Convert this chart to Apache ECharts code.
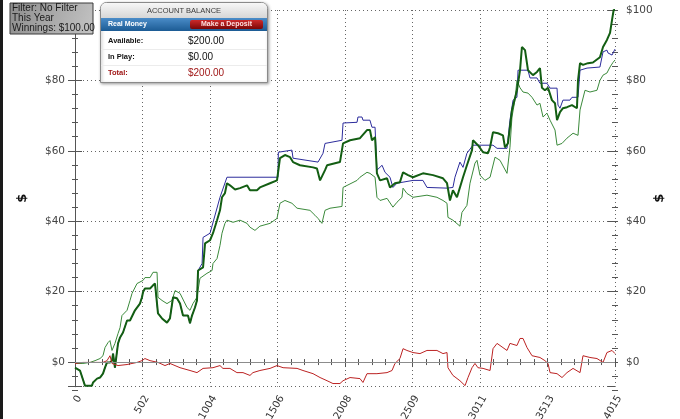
<!DOCTYPE html>
<html><head><meta charset="utf-8">
<script src="https://cdn.jsdelivr.net/npm/echarts@6/dist/echarts.min.js"></script>
<style>html,body{margin:0;padding:0;background:#fff}#c{width:680px;height:419px}</style>
</head><body><div id="c"></div>
<script>
const handMax = 4015;
const xTickLabels = ['0','502','1004','1506','2008','2509','3011','3513','4015'];
const yTickValues = [0,20,40,60,80,100];

// dark green (thick)
const netWon = [[0,-1.6],[37,-2.4],[74,-6.7],[126,-6.7],[134,-5.8],[164,-4.7],[186,-4.4],[208,-3.3],[223,-1.6],[238,-0.1],[260,-0.1],[275,0.4],[283,2.4],[297,-1.6],[320,5.3],[335,7.0],[357,8.4],[387,11.8],[409,11.8],[446,14.7],[483,16.6],[498,18.4],[506,19.9],[520,20.9],[558,20.9],[580,21.8],[595,22.3],[617,13.8],[647,12.4],[684,11.2],[706,12.4],[729,18.4],[758,18.1],[781,16.6],[803,13.2],[840,13.2],[855,11.0],[870,13.2],[892,15.5],[907,17.5],[915,26.0],[952,26.9],[967,33.7],[1004,34.6],[1026,36.6],[1056,40.3],[1078,43.1],[1093,46.8],[1115,48.0],[1130,50.8],[1152,50.2],[1190,49.0],[1227,49.4],[1279,50.2],[1301,48.8],[1353,48.8],[1375,49.6],[1450,50.8],[1502,51.6],[1524,57.9],[1561,58.8],[1599,58.2],[1621,56.8],[1673,55.9],[1770,55.3],[1799,55.0],[1822,51.6],[1859,54.5],[1874,55.9],[1970,56.8],[1993,62.1],[2045,63.0],[2119,63.6],[2171,65.9],[2193,65.9],[2208,63.0],[2231,63.9],[2245,53.6],[2268,51.6],[2320,52.2],[2342,49.6],[2379,50.8],[2416,51.1],[2439,53.9],[2476,53.1],[2513,52.5],[2587,53.6],[2662,53.1],[2736,52.2],[2766,50.8],[2788,45.9],[2810,48.8],[2840,46.8],[2862,49.6],[2885,52.5],[2914,55.9],[2952,60.2],[2959,63.0],[2996,61.6],[3034,59.6],[3071,59.3],[3086,61.0],[3108,65.3],[3145,65.0],[3182,64.4],[3197,61.0],[3219,62.1],[3234,66.7],[3249,71.6],[3286,77.2],[3309,82.9],[3323,89.5],[3346,88.6],[3368,82.9],[3405,81.5],[3435,82.4],[3457,83.5],[3472,77.9],[3494,77.2],[3517,77.9],[3546,74.4],[3569,73.5],[3584,68.7],[3606,71.0],[3628,72.1],[3658,72.4],[3695,73.0],[3732,72.1],[3740,80.0],[3755,84.9],[3777,84.4],[3814,84.9],[3851,85.1],[3903,86.6],[3926,89.5],[3955,91.5],[3978,93.5],[3993,97.2],[4005,100.0],[4015,100.0]];

// blue (thin)
const blueLine = [[0,-1.6],[37,-2.4],[74,-6.7],[126,-6.7],[134,-5.8],[164,-4.7],[186,-4.4],[208,-3.3],[223,-1.6],[238,-0.1],[260,-0.1],[275,0.4],[283,2.4],[297,-1.6],[320,5.3],[335,7.0],[357,8.4],[387,11.8],[409,11.8],[446,14.7],[483,16.6],[498,18.4],[506,19.9],[520,20.9],[558,20.9],[580,21.8],[595,22.3],[617,13.8],[647,12.4],[684,11.2],[706,12.4],[729,18.4],[758,18.1],[781,16.6],[803,13.2],[840,13.2],[855,11.0],[870,13.2],[892,15.5],[907,17.5],[915,26.0],[945,28.0],[952,35.4],[1004,36.6],[1078,46.8],[1130,52.5],[1509,52.5],[1512,59.6],[1613,60.2],[1621,57.9],[1807,56.8],[1844,59.3],[1859,62.1],[1985,63.0],[1993,67.9],[2097,68.1],[2104,69.6],[2134,69.6],[2141,68.7],[2193,68.7],[2208,66.7],[2231,66.7],[2245,54.5],[2283,55.9],[2305,53.9],[2342,52.5],[2364,49.6],[2394,50.8],[2439,51.1],[2513,51.6],[2587,51.6],[2617,49.6],[2766,49.4],[2810,49.6],[2825,52.5],[2862,56.8],[2885,55.3],[2914,59.3],[2959,61.6],[3108,61.6],[3138,60.7],[3212,60.7],[3234,68.7],[3257,74.4],[3286,75.2],[3294,82.9],[3368,82.9],[3383,80.7],[3435,80.7],[3457,79.2],[3509,79.2],[3532,77.8],[3584,77.8],[3591,73.0],[3606,72.1],[3628,74.4],[3680,74.4],[3695,75.2],[3740,75.2],[3755,82.9],[3807,83.5],[3903,83.8],[3926,88.1],[3955,88.6],[3963,87.8],[3993,87.2],[4015,88.9]];

// light green (thin)
const lightGreen = [[0,-0.4],[59,-0.4],[112,-0.1],[149,0.4],[186,1.0],[208,1.8],[223,4.1],[245,5.5],[260,6.1],[275,3.3],[297,5.3],[320,8.1],[335,9.8],[349,13.2],[387,14.7],[409,17.5],[424,19.5],[461,22.3],[506,23.2],[520,24.0],[558,24.0],[580,25.5],[610,25.5],[617,18.4],[647,17.5],[684,16.6],[721,17.5],[744,20.3],[781,19.5],[833,15.5],[855,14.7],[877,16.6],[907,18.4],[929,23.8],[981,25.2],[1019,26.0],[1026,28.0],[1056,29.4],[1078,33.1],[1093,36.6],[1115,39.4],[1130,40.3],[1175,39.7],[1227,40.3],[1279,39.4],[1301,38.3],[1338,37.4],[1375,38.6],[1450,39.4],[1502,40.8],[1524,45.1],[1561,45.9],[1613,45.1],[1651,43.7],[1747,43.1],[1784,41.7],[1807,40.8],[1836,39.4],[1859,43.1],[1896,43.7],[1985,44.2],[1993,49.6],[2097,51.6],[2119,52.5],[2171,53.9],[2193,53.6],[2231,52.5],[2245,46.8],[2268,45.9],[2320,46.5],[2364,44.0],[2394,45.4],[2431,46.8],[2439,49.4],[2468,47.9],[2513,46.8],[2617,47.4],[2691,46.8],[2736,45.9],[2766,45.1],[2773,41.1],[2810,40.3],[2862,38.6],[2877,42.5],[2914,44.5],[2937,50.8],[2974,56.5],[2989,57.3],[3011,53.1],[3048,51.6],[3086,52.5],[3123,58.2],[3160,57.3],[3212,53.6],[3234,61.0],[3249,69.6],[3271,74.4],[3286,80.0],[3309,77.9],[3331,76.7],[3368,76.4],[3398,75.2],[3435,73.0],[3457,73.5],[3480,69.6],[3509,70.7],[3532,68.7],[3569,65.9],[3584,61.6],[3621,62.1],[3658,63.6],[3703,65.0],[3740,64.4],[3755,71.6],[3792,77.2],[3829,76.7],[3881,77.2],[3903,80.0],[3926,81.5],[3955,82.1],[3978,83.8],[4000,85.1],[4015,85.8]];

// red (thin)
const redLine = [[0,-0.4],[59,-0.1],[164,-0.1],[208,-0.1],[238,0.4],[260,1.8],[275,-0.4],[320,-1.0],[387,-0.7],[461,-0.1],[498,0.4],[520,1.0],[558,0.4],[617,-0.1],[669,-1.0],[706,-0.4],[781,-1.6],[855,-2.4],[907,-3.0],[952,-1.8],[1026,-1.6],[1078,-1.0],[1100,-1.8],[1152,-1.8],[1204,-3.0],[1249,-3.0],[1301,-3.8],[1323,-3.0],[1375,-2.4],[1450,-1.8],[1502,-1.0],[1547,-1.6],[1651,-1.8],[1695,-2.4],[1770,-3.3],[1822,-4.4],[1874,-5.3],[1918,-6.1],[1970,-6.1],[1993,-5.3],[2045,-4.4],[2119,-4.7],[2141,-5.8],[2171,-3.3],[2245,-3.3],[2320,-3.0],[2357,-2.4],[2379,-0.4],[2416,1.0],[2439,3.8],[2468,3.3],[2513,2.7],[2565,2.4],[2617,3.3],[2691,3.3],[2736,2.4],[2766,2.7],[2773,-1.6],[2810,-3.8],[2862,-5.3],[2900,-6.7],[2922,-4.4],[2952,-1.6],[2974,-0.4],[2996,-1.6],[3034,-1.8],[3086,-2.4],[3108,3.8],[3138,5.3],[3182,4.1],[3212,3.3],[3234,5.3],[3286,4.7],[3309,6.7],[3331,6.7],[3361,4.1],[3398,1.8],[3457,1.3],[3494,0.4],[3517,-0.4],[3532,-3.0],[3584,-3.3],[3621,-4.4],[3658,-3.0],[3703,-1.8],[3755,-3.0],[3777,1.8],[3829,1.3],[3881,1.0],[3926,-0.1],[3955,2.7],[3993,3.3],[4015,2.4]];

const filterLines = ['Filter: No Filter','This Year','Winnings: $100.00'];
const panelTitle = 'ACCOUNT BALANCE';
const panelRows = [['Available:','$200.00'],['In Play:','$0.00'],['Total:','$200.00']];

const chart = echarts.init(document.getElementById('c'), null, {renderer:'canvas'});
const axisColor = '#555';
const font = 'DejaVu Sans';
const gridA = {left:75, right:65, top:10, bottom:32.3, containLabel:false, outerBoundsMode:'none'};
const gridB = {left:75, right:65, top:10, bottom:28.8, containLabel:false, outerBoundsMode:'none'};
const yMin = -7, yMax = 100;

function tickAxisY(gridIndex, pos, inside, len, min, interval) {
  const a = {gridIndex, type:'value', position:pos, min, max:yMax,
    axisLine:{show:false}, axisTick:{show:true, inside, length:len, lineStyle:{color:axisColor}},
    axisLabel:{show:false}, splitLine:{show:false}};
  if (interval) a.interval = interval;
  return a;
}
function yLabel(v){ return yTickValues.indexOf(v) >= 0 ? '$' + v : ''; }

const option = {
  animation:false,
  backgroundColor:'#ffffff',
  grid:[gridA, gridB],
  xAxis:[
    {gridIndex:0, type:'value', position:'bottom', min:0, max:handMax, interval:handMax/8,
     axisLine:{show:true, lineStyle:{color:axisColor}},
     axisTick:{show:true, length:5, lineStyle:{color:axisColor}},
     minorTick:{show:true, splitNumber:5, length:2, lineStyle:{color:axisColor}},
     splitLine:{show:true, lineStyle:{color:'#666', type:[1,3]}},
     axisLabel:{rotate:60, margin:7, verticalAlign:'top', fontSize:10.2, color:'#333', fontFamily:font,
       formatter:v => xTickLabels[Math.round(v/(handMax/8))]}},
    {gridIndex:0, type:'value', position:'bottom', min:0, max:handMax, interval:handMax/8,
     axisLine:{show:false}, axisTick:{show:true, inside:true, length:4, lineStyle:{color:axisColor}},
     minorTick:{show:true, splitNumber:5, length:3, lineStyle:{color:axisColor}},
     axisLabel:{show:false}, splitLine:{show:false}},
    {gridIndex:0, type:'value', position:'top', min:0, max:handMax, interval:handMax/8,
     axisLine:{show:true, lineStyle:{color:axisColor}}, axisTick:{show:true, inside:true, length:4, lineStyle:{color:axisColor}},
     minorTick:{show:true, splitNumber:5, length:3, lineStyle:{color:axisColor}},
     axisLabel:{show:false}, splitLine:{show:false}},
    {gridIndex:1, type:'value', min:0, max:handMax, show:false}
  ],
  yAxis:[
    {gridIndex:0, type:'value', position:'left', min:yMin, max:yMax,
     axisLine:{show:true, lineStyle:{color:axisColor}},
     axisTick:{show:true, length:7, lineStyle:{color:axisColor}},
     axisLabel:{margin:10, fontSize:10.5, color:'#444', fontFamily:font, formatter:yLabel},
     splitLine:{show:true, lineStyle:{color:'#666', type:[1,3]}},
     name:'$', nameLocation:'middle', nameGap:46, nameRotate:90, nameMoveOverlap:false,
     nameTextStyle:{fontSize:13, fontWeight:'bold', color:'#111', fontFamily:font}},
    tickAxisY(0,'left',true,7,yMin),
    {gridIndex:0, type:'value', position:'right', min:yMin, max:yMax,
     axisLine:{show:true, lineStyle:{color:axisColor}},
     axisTick:{show:true, length:7, lineStyle:{color:axisColor}},
     axisLabel:{margin:11, fontSize:10.5, color:'#444', fontFamily:font, formatter:yLabel},
     splitLine:{show:false},
     name:'$', nameLocation:'middle', nameGap:38, nameRotate:90, nameMoveOverlap:false,
     nameTextStyle:{fontSize:13, fontWeight:'bold', color:'#111', fontFamily:font}},
    tickAxisY(0,'right',true,7,yMin),
    tickAxisY(1,'left',false,3,-8,4),
    tickAxisY(1,'left',true,3,-8,4),
    tickAxisY(1,'right',false,3,-8,4),
    tickAxisY(1,'right',true,3,-8,4)
  ],
  series:[
    {type:'line', name:'zero', xAxisIndex:0, yAxisIndex:0, data:[], symbol:'none', silent:true,
     markLine:{silent:true, symbol:'none', label:{show:false},
       lineStyle:{color:'#8c8c8c', type:'solid', width:1}, data:[{yAxis:0}]}},
    {type:'line', name:'lightGreen', xAxisIndex:0, yAxisIndex:0, data:lightGreen, symbol:'none',
     lineStyle:{color:'#3b8a3b', width:1}},
    {type:'line', name:'blue', xAxisIndex:0, yAxisIndex:0, data:blueLine, symbol:'none',
     lineStyle:{color:'#2c2c9c', width:1}},
    {type:'line', name:'netWon', xAxisIndex:0, yAxisIndex:0, data:netWon, symbol:'none',
     lineStyle:{color:'#135e13', width:2}},
    {type:'line', name:'red', xAxisIndex:0, yAxisIndex:0, data:redLine, symbol:'none',
     lineStyle:{color:'#bb2222', width:1}}
  ],
  graphic:[
    {type:'rect', z:100, shape:{x:0, y:0, width:3, height:419}, style:{fill:'#1a1a1a'}},
    {type:'rect', z:100, shape:{x:10, y:3, width:83, height:31},
     style:{fill:new echarts.graphic.LinearGradient(0,0,1,1,[{offset:0,color:'#8d8d8d'},{offset:1,color:'#c4c4c4'}]), stroke:'#3a3a3a', lineWidth:1}},
    ...filterLines.map((t,i)=>({type:'text', z:101, x:12, y:8.5+i*10,
      style:{text:t, fill:'#1a1a1a', font:'10px "Liberation Sans"', textVerticalAlign:'middle'}})),
    {type:'rect', z:100, shape:{x:100.5, y:2.5, width:167, height:80, r:[6,6,0,0]},
     style:{fill:'#ffffff', stroke:'#8a8a8a', lineWidth:1, shadowBlur:3, shadowColor:'rgba(0,0,0,0.35)', shadowOffsetX:1, shadowOffsetY:1}},
    {type:'rect', z:101, shape:{x:101, y:3, width:166, height:15, r:[5,5,0,0]},
     style:{fill:new echarts.graphic.LinearGradient(0,0,0,1,[{offset:0,color:'#f7f7f7'},{offset:1,color:'#d6d6d6'}])}},
    {type:'text', z:102, x:184, y:10.5, style:{text:panelTitle, fill:'#3a3a3a', font:'7.5px "Liberation Sans"', textAlign:'center', textVerticalAlign:'middle'}},
    {type:'rect', z:101, shape:{x:101, y:18, width:166, height:13},
     style:{fill:new echarts.graphic.LinearGradient(0,0,0,1,[{offset:0,color:'#4a8cc8'},{offset:1,color:'#1c5b94'}])}},
    {type:'text', z:102, x:108, y:24.5, style:{text:'Real Money', fill:'#ffffff', font:'bold 7px "Liberation Sans"', textVerticalAlign:'middle'}},
    {type:'rect', z:102, shape:{x:190, y:20, width:73, height:9, r:2},
     style:{fill:new echarts.graphic.LinearGradient(0,0,0,1,[{offset:0,color:'#cc2a2a'},{offset:1,color:'#7a0606'}])}},
    {type:'text', z:103, x:226.5, y:24.5, style:{text:'Make a Deposit', fill:'#ffe0e0', font:'bold 7px "Liberation Sans"', textAlign:'center', textVerticalAlign:'middle'}},
    {type:'line', z:101, shape:{x1:101, y1:49.5, x2:267, y2:49.5}, style:{stroke:'#ececec', lineWidth:1}},
    {type:'line', z:101, shape:{x1:101, y1:65.5, x2:267, y2:65.5}, style:{stroke:'#ececec', lineWidth:1}},
    ...panelRows.map((r,i)=>({type:'text', z:102, x:108, y:41+i*16,
      style:{text:r[0], fill:i===2?'#a01818':'#111111', font:'bold 7.5px "Liberation Sans"', textVerticalAlign:'middle'}})),
    ...panelRows.map((r,i)=>({type:'text', z:102, x:188, y:41+i*16,
      style:{text:r[1], fill:i===2?'#a01818':'#111111', font:'10px "Liberation Sans"', textVerticalAlign:'middle'}}))
  ]
};
chart.setOption(option);
</script>
</body></html>
